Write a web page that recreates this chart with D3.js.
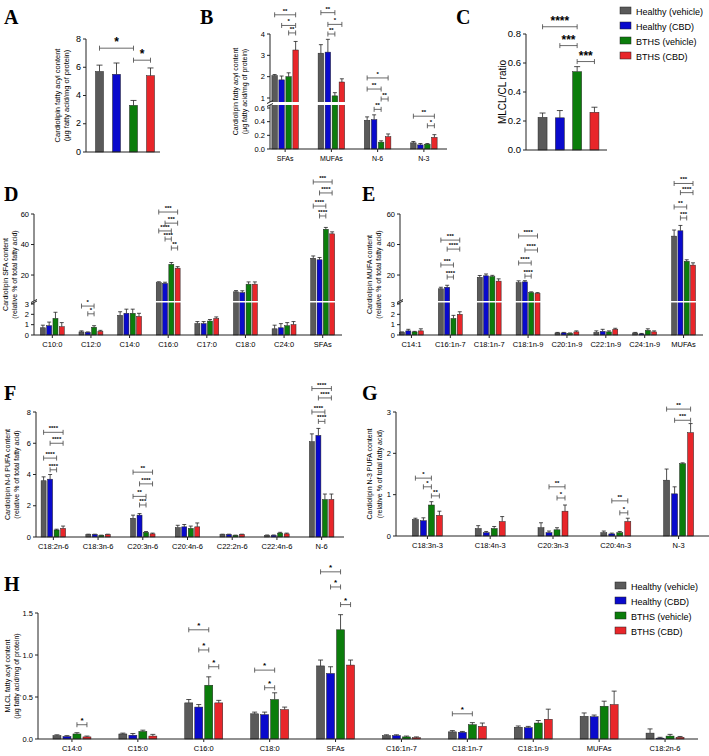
<!DOCTYPE html>
<html><head><meta charset="utf-8">
<script src="https://cdn.jsdelivr.net/npm/d3@7"></script>
<style>body{margin:0;background:#fff}svg{font-family:"Liberation Sans",Arial,sans-serif}</style>
</head><body><svg id="c" width="709" height="756"></svg>
<script>
const groups=["Healthy (vehicle)","Healthy (CBD)","BTHS (vehicle)","BTHS (CBD)"];
const colors=["#5a5a5a","#0a0acc","#0b7d0b","#e8262a"];

const catsA=[""];
const valsA=[[5.7,5.5,3.3,5.4]];
const errA=[[0.45,0.8,0.35,0.55]];
const sigA=[[0,0,2,7.35,"*"],[0,2,3,6.5,"*"]];

const catsB=["SFAs","MUFAs","N-6","N-3"];
const valsB=[[2.05,1.85,2.0,3.25],[3.1,3.15,1.1,1.75],[0.42,0.43,0.1,0.18],[0.09,0.06,0.07,0.17]];
const errB=[[0.05,0.18,0.18,0.4],[0.4,0.6,0.15,0.15],[0.05,0.07,0.02,0.04],[0.02,0.02,0.01,0.04]];
const sigB=[[0,0,3,4.9,"**"],[0,1,3,4.4,"*"],[0,2,3,4.05,"**"],[1,0,2,5.0,"**"],[1,1,3,4.45,"*"],[1,1,2,4.0,"**"],
 [2,0,3,1.94,"*"],[2,0,2,1.42,"**"],[2,2,3,0.96,"**"],[2,1,2,0.58,"**"],[3,0,3,0.48,"**"],[3,2,3,0.34,"*"]];

const catsC=[""];
const valsC=[[0.225,0.222,0.54,0.26]];
const errC=[[0.03,0.05,0.035,0.035]];
const sigC=[[0,0,2,0.85,"****"],[0,1,2,0.72,"***"],[0,2,3,0.61,"***"]];

const catsD=["C10:0","C12:0","C14:0","C16:0","C17:0","C18:0","C24:0","SFAs"];
const valsD=[[0.7,0.9,1.6,0.8],[0.3,0.25,0.75,0.35],[1.9,2.1,2.1,1.8],[15,14.5,27,24.5],[1.1,1.1,1.35,1.6],[9,8.5,14,14],[0.6,0.7,0.9,1.0],[31,30,50,47]];
const errD=[[0.25,0.35,0.6,0.4],[0.1,0.05,0.15,0.1],[0.35,0.4,0.4,0.3],[0.6,0.8,1.2,1.0],[0.2,0.2,0.15,0.15],[0.8,1.2,1.5,1.5],[0.35,0.4,0.3,0.3],[1.5,1.5,1.2,1.3]];
const sigD=[[1,0,2,2.8,"*"],[1,1,2,2.05,"*"],[3,0,3,61.3,"***"],[3,1,3,54,"***"],[3,0,2,48.9,"****"],[3,1,2,43.6,"****"],[3,2,3,37.7,"**"],
 [7,0,3,81,"***"],[7,1,3,73.8,"****"],[7,0,2,65.2,"****"],[7,1,2,58.7,"****"]];

const catsE=["C14:1","C16:1n-7","C18:1n-7","C18:1n-9","C20:1n-9","C22:1n-9","C24:1n-9","MUFAs"];
const valsE=[[0.25,0.4,0.3,0.4],[11,12,1.6,2.0],[18.5,19.5,19,16],[15,15.5,8.5,8],[0.2,0.2,0.15,0.3],[0.25,0.35,0.3,0.55],[0.2,0.1,0.45,0.3],[45.5,49,29,26.5]];
const errE=[[0.05,0.15,0.05,0.2],[1,1.3,0.3,0.25],[1.2,1.2,0.8,1.5],[1.2,0.8,0.5,0.5],[0.05,0.05,0.05,0.1],[0.15,0.2,0.1,0.1],[0.05,0.05,0.15,0.1],[4,3.5,1,1.5]];
const sigE=[[1,0,3,42.9,"***"],[1,1,3,37,"****"],[1,0,2,26.6,"***"],[1,1,2,18.7,"****"],
 [3,0,3,45.6,"****"],[3,1,3,36.4,"****"],[3,0,2,27.9,"****"],[3,1,2,19.3,"****"],
 [7,0,3,80,"***"],[7,1,3,74,"****"],[7,0,2,64.6,"**"],[7,1,2,57.4,"***"]];

const catsF=["C18:2n-6","C18:3n-6","C20:3n-6","C20:4n-6","C22:2n-6","C22:4n-6","N-6"];
const valsF=[[3.6,3.7,0.45,0.55],[0.15,0.15,0.1,0.15],[1.2,1.4,0.3,0.2],[0.6,0.65,0.55,0.65],[0.15,0.15,0.1,0.15],[0.1,0.1,0.25,0.2],[6.1,6.5,2.4,2.4]];
const errF=[[0.25,0.3,0.05,0.15],[0.03,0.03,0.02,0.03],[0.2,0.1,0.05,0.05],[0.15,0.15,0.15,0.25],[0.03,0.03,0.02,0.03],[0.03,0.03,0.05,0.05],[0.5,0.45,0.35,0.35]];
const sigF=[[0,0,3,6.7,"****"],[0,1,3,6.0,"****"],[0,0,2,5.05,"****"],[0,1,2,4.3,"****"],
 [2,0,3,4.15,"**"],[2,1,3,3.4,"****"],[2,0,2,2.6,"**"],[2,1,2,2.05,"***"],
 [6,0,3,9.5,"****"],[6,1,3,8.9,"****"],[6,0,2,8.0,"****"],[6,1,2,7.4,"****"]];

const catsG=["C18:3n-3","C18:4n-3","C20:3n-3","C20:4n-3","N-3"];
const valsG=[[0.4,0.37,0.75,0.5],[0.18,0.08,0.18,0.35],[0.2,0.08,0.15,0.6],[0.08,0.05,0.08,0.35],[1.35,1.02,1.75,2.5]];
const errG=[[0.03,0.07,0.08,0.1],[0.07,0.03,0.05,0.12],[0.12,0.04,0.05,0.15],[0.04,0.02,0.03,0.08],[0.27,0.17,0.02,0.22]];
const sigG=[[0,0,2,1.4,"*"],[0,1,2,1.19,"*"],[0,2,3,0.97,"**"],[2,1,3,1.19,"**"],[2,2,3,0.92,"*"],[3,1,3,0.85,"**"],[3,2,3,0.56,"*"],[4,0,3,3.07,"**"],[4,1,3,2.8,"***"]];

const catsH=["C14:0","C15:0","C16:0","C18:0","SFAs","C16:1n-7","C18:1n-7","C18:1n-9","MUFAs","C18:2n-6"];
const valsH=[[0.04,0.03,0.06,0.025],[0.06,0.045,0.09,0.035],[0.43,0.38,0.64,0.43],[0.3,0.29,0.47,0.35],[0.87,0.78,1.3,0.88],[0.04,0.04,0.025,0.015],[0.085,0.08,0.17,0.15],[0.14,0.135,0.19,0.235],[0.27,0.265,0.39,0.41],[0.07,0.01,0.035,0.02]];
const errH=[[0.01,0.01,0.015,0.01],[0.01,0.02,0.015,0.02],[0.04,0.03,0.1,0.03],[0.02,0.03,0.08,0.03],[0.07,0.08,0.18,0.06],[0.01,0.01,0.01,0.01],[0.015,0.01,0.025,0.04],[0.015,0.015,0.03,0.12],[0.04,0.02,0.06,0.16],[0.05,0.01,0.02,0.01]];
const sigH=[[0,2,3,0.17,"*"],[2,0,2,1.3,"*"],[2,1,2,1.06,"*"],[2,2,3,0.86,"*"],[3,0,2,0.82,"*"],[3,1,2,0.61,"*"],
 [4,0,2,1.99,"*"],[4,1,2,1.81,"*"],[4,2,3,1.6,"*"],[6,0,2,0.30,"*"]];

const svg=d3.select("#c");

function broken(lo,loR,hi,hiR){
  const l=d3.scaleLinear().domain(lo).range(loR), h=d3.scaleLinear().domain(hi).range(hiR);
  const mid=d3.scaleLinear().domain([lo[1],hi[0]]).range([loR[1],hiR[0]]);
  const f=v=>v<=lo[1]?l(v):(v>=hi[0]?h(v):mid(v));
  return f;
}

function panel(o){
  const g=svg.append("g");
  const x=d3.scaleBand().domain(o.cats.map((c,i)=>i)).range(o.xr);
  const y=o.y;
  const bw=o.bw, st=o.step;
  const bx=(ci,gi)=>x(ci)+x.bandwidth()/2+(gi-1.5)*st;
  o.vals.forEach((vs,ci)=>vs.forEach((v,gi)=>{
    const cx=bx(ci,gi), top=y(v+o.errs[ci][gi]);
    g.append("line").attr("x1",cx).attr("x2",cx).attr("y1",y(v)).attr("y2",top).attr("stroke","#222").attr("stroke-width",0.8);
    g.append("line").attr("x1",cx-o.cap).attr("x2",cx+o.cap).attr("y1",top).attr("y2",top).attr("stroke","#222").attr("stroke-width",0.8);
    g.append("rect").attr("x",cx-bw/2).attr("width",bw).attr("y",y(v)).attr("height",y(0)-y(v))
      .attr("fill",colors[gi]).attr("stroke","#222").attr("stroke-width",0.5);
  }));
  if(o.gap){
    g.append("rect").attr("x",o.ax-3).attr("width",o.xr[1]-o.ax+3).attr("y",o.gap[0]).attr("height",o.gap[1]-o.gap[0]).attr("fill","#fff");
  }
  const ya=g.append("g").attr("font-size",o.fs||7.5);
  if(o.gap){
    ya.append("line").attr("x1",o.ax).attr("x2",o.ax).attr("y1",y(0)).attr("y2",o.gap[1]).attr("stroke","#222");
    ya.append("line").attr("x1",o.ax).attr("x2",o.ax).attr("y1",o.gap[0]).attr("y2",y(o.ymax)).attr("stroke","#222");
    [o.gap[0],o.gap[1]].forEach(yy=>ya.append("line").attr("x1",o.ax-3).attr("x2",o.ax+3).attr("y1",yy+1.5).attr("y2",yy-1.5).attr("stroke","#222"));
  } else {
    ya.append("line").attr("x1",o.ax).attr("x2",o.ax).attr("y1",y(0)).attr("y2",y(o.ymax)).attr("stroke","#222");
  }
  o.ticks.forEach((t,i)=>{
    ya.append("line").attr("x1",o.ax-3).attr("x2",o.ax).attr("y1",y(t)).attr("y2",y(t)).attr("stroke","#222");
    ya.append("text").attr("x",o.ax-5).attr("y",y(t)+2.7).attr("text-anchor","end").text(o.tl?o.tl[i]:t);
  });
  g.append("line").attr("x1",o.ax).attr("x2",o.xr[1]).attr("y1",y(0)).attr("y2",y(0)).attr("stroke","#222");
  o.cats.forEach((c,ci)=>{
    if(!c) return;
    const cx=x(ci)+x.bandwidth()/2;
    g.append("line").attr("x1",cx).attr("x2",cx).attr("y1",y(0)).attr("y2",y(0)+3).attr("stroke","#222");
    g.append("text").attr("x",cx).attr("y",y(0)+12).attr("text-anchor","middle").attr("font-size",o.xfs||7.5).text(c);
  });
  const yc=(y(0)+y(o.ymax))/2;
  o.ylab.forEach((t,i)=>g.append("text").attr("transform",`translate(${o.ylx[i]},${yc}) rotate(-90)`)
    .attr("text-anchor","middle").attr("font-size",o.ylfs||7).text(t));
  o.sig.forEach(([ci,a,b,v,l])=>{
    const x1=bx(ci,a),x2=bx(ci,b),yy=y(v);
    g.append("path").attr("d",`M${x1},${yy-2.5}V${yy+2.5}M${x1},${yy}H${x2}M${x2},${yy-2.5}V${yy+2.5}`).attr("stroke","#444").attr("stroke-width",0.8).attr("fill","none");
    g.append("text").attr("x",(x1+x2)/2).attr("y",yy-2).attr("text-anchor","middle").attr("font-size",o.sfs||7).attr("font-weight","bold").text(l);
  });
  svg.append("text").attr("x",o.L[0]).attr("y",o.L[1]).attr("font-family","Liberation Serif,serif").attr("font-weight","bold").attr("font-size",20).text(o.L[2]);
}
function legend(x0,y0,dy){
  groups.forEach((t,i)=>{
    svg.append("rect").attr("x",x0).attr("y",y0+i*dy-4).attr("width",11).attr("height",7).attr("fill",colors[i]).attr("stroke","#222").attr("stroke-width",0.5);
    svg.append("text").attr("x",x0+16).attr("y",y0+i*dy+3.5).attr("font-size",9).text(t);
  });
}

panel({L:[4,24,"A"],cats:catsA,vals:valsA,errs:errA,sig:sigA,xr:[90,160],ax:86,bw:8,step:17,cap:3,
  y:d3.scaleLinear().domain([0,8]).range([152,39]),ymax:8,ticks:[0,2,4,6,8],fs:9,
  ylab:["Cardiolipin fatty acyl content","(µg fatty acid/mg of protein)"],ylx:[60,69],ylfs:7.5,sfs:12});
const yB=broken([0,0.6],[149,108],[1,4],[98,34]);
panel({L:[200,24,"B"],cats:catsB,vals:valsB,errs:errB,sig:sigB,xr:[262,447],ax:270,bw:5.5,step:7,cap:2,
  y:yB,ymax:4,gap:[102,105],ticks:[0,0.2,0.4,0.6,1,2,3,4],tl:["0.0","0.2","0.4","0.6","1","2","3","4"],
  ylab:["Cardiolipin fatty acyl content","(µg fatty acid/mg of protein)"],ylx:[238,247],ylfs:7,xfs:7,sfs:6});
panel({L:[456,24,"C"],cats:catsC,vals:valsC,errs:errC,sig:sigC,xr:[530,607],ax:526,bw:9,step:17.3,cap:3,
  y:d3.scaleLinear().domain([0,0.8]).range([150,34]),ymax:0.8,ticks:[0,0.2,0.4,0.6,0.8],tl:["0.0","0.2","0.4","0.6","0.8"],fs:9.5,
  ylab:["MLCL/CL ratio"],ylx:[506],ylfs:10,sfs:12});
legend(620,11,15);

const yD=broken([0,3],[335,304],[4.3,60],[299,214]);
panel({L:[4,201,"D"],cats:catsD,vals:valsD,errs:errD,sig:sigD,xr:[33,342],ax:34,bw:5,step:6.3,cap:2,
  y:yD,ymax:60,gap:[301,302.5],ticks:[0,1,2,3,20,40,60],
  ylab:["Cardiolipin SFA content","(relative % of total fatty acid)"],ylx:[8,17],sfs:6});
const yE=broken([0,3],[335,304],[4.3,60],[299,214]);
panel({L:[362,201,"E"],cats:catsE,vals:valsE,errs:errE,sig:sigE,xr:[392,703],ax:400,bw:5,step:6.3,cap:2,
  y:yE,ymax:60,gap:[301,302.5],ticks:[0,1,2,3,20,40,60],
  ylab:["Cardiolipin MUFA content","(relative % of total fatty acid)"],ylx:[372,381],sfs:6});

panel({L:[4,400,"F"],cats:catsF,vals:valsF,errs:errF,sig:sigF,xr:[31,344],ax:36,bw:5,step:6.5,cap:2,
  y:d3.scaleLinear().domain([0,8]).range([537,412]),ymax:8,ticks:[0,2,4,6,8],
  ylab:["Cardiolipin N-6 PUFA content","(relative % of total fatty acid)"],ylx:[10,19],sfs:6});
panel({L:[362,400,"G"],cats:catsG,vals:valsG,errs:errG,sig:sigG,xr:[396,710],ax:396,bw:6,step:8,cap:2,
  y:d3.scaleLinear().domain([0,3]).range([536,412]),ymax:3,ticks:[0,1,2,3],
  ylab:["Cardiolipin N-3 PUFA content","(relative % of total fatty acid)"],ylx:[372,382],sfs:6});

panel({L:[4,591,"H"],cats:catsH,vals:valsH,errs:errH,sig:sigH,xr:[39,698],ax:38,bw:8,step:10,cap:2.5,
  y:d3.scaleLinear().domain([0,1.5]).range([739,613]),ymax:1.5,ticks:[0,0.5,1,1.5],tl:["0.0","0.5","1.0","1.5"],
  ylab:["MLCL fatty acyl content","(µg fatty acid/mg of protein)"],ylx:[10,19],sfs:8});
legend(615,586,15);
</script></body></html>
